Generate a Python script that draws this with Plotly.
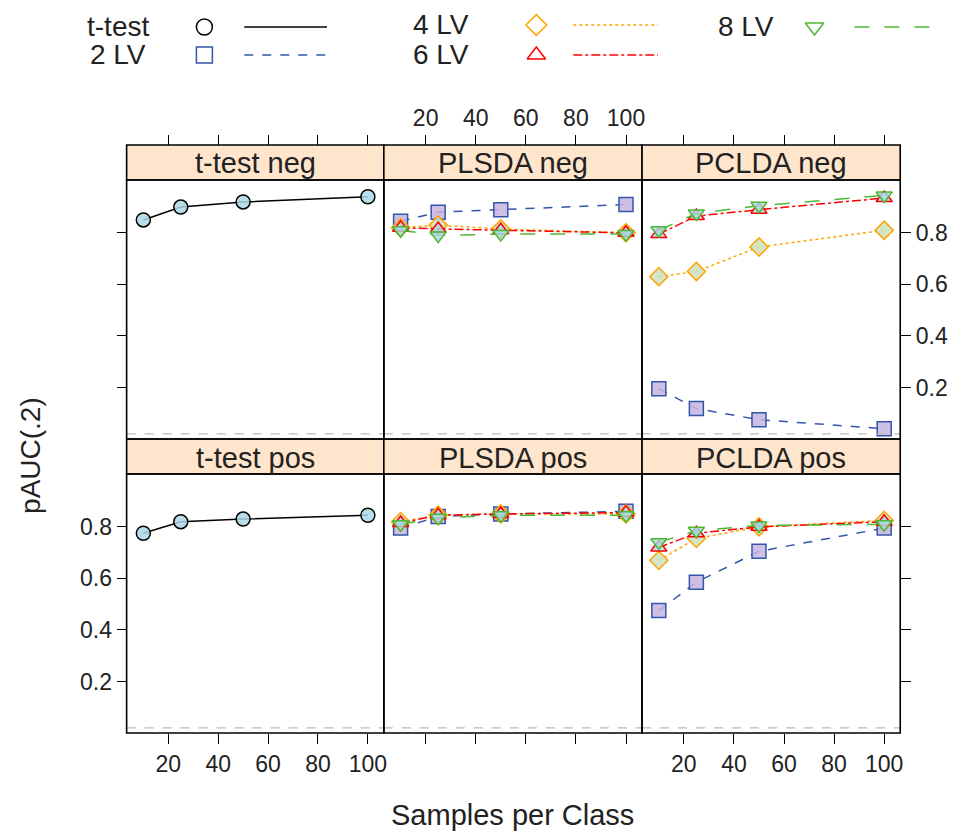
import plotly.graph_objects as go

W, H = 969, 834

samples = [10, 25, 50, 100]
methods = ["t-test", "PLSDA", "PCLDA"]
directions = ["neg", "pos"]
series_names = ["t-test", "2 LV", "4 LV", "6 LV", "8 LV"]

# pAUC(.2) values
ttest_neg = [0.85, 0.90, 0.92, 0.94]
ttest_pos = [0.775, 0.82, 0.83, 0.845]
plsda_neg = {
    "2 LV": [0.845, 0.88, 0.89, 0.91],
    "4 LV": [0.82, 0.83, 0.815, 0.80],
    "6 LV": [0.82, 0.815, 0.81, 0.80],
    "8 LV": [0.81, 0.79, 0.795, 0.795],
}
plsda_pos = {
    "2 LV": [0.795, 0.84, 0.85, 0.86],
    "4 LV": [0.82, 0.845, 0.85, 0.85],
    "6 LV": [0.815, 0.845, 0.85, 0.855],
    "8 LV": [0.81, 0.835, 0.845, 0.845],
}
pclda_neg = {
    "2 LV": [0.195, 0.118, 0.075, 0.04],
    "4 LV": [0.63, 0.65, 0.745, 0.81],
    "6 LV": [0.795, 0.865, 0.89, 0.935],
    "8 LV": [0.81, 0.875, 0.905, 0.945],
}
pclda_pos = {
    "2 LV": [0.475, 0.585, 0.705, 0.795],
    "4 LV": [0.67, 0.755, 0.80, 0.825],
    "6 LV": [0.72, 0.775, 0.80, 0.82],
    "8 LV": [0.74, 0.785, 0.805, 0.81],
}
random_pauc = 0.02

styles = {
    "t-test": dict(color="black", dash="solid", fill="rgba(173,216,230,0.85)", sym="circle"),
    "2 LV": dict(color="#3355AA", dash="dash", fill="rgba(200,180,225,0.85)", sym="square"),
    "4 LV": dict(color="#FFA500", dash="dot", fill="rgba(205,225,190,0.85)", sym="diamond"),
    "6 LV": dict(color="#FF0000", dash="dashdot", fill="rgba(173,216,230,0.8)", sym="triangle-up"),
    "8 LV": dict(color="#4DB833", dash="longdash", fill="rgba(173,216,230,0.8)", sym="triangle-down"),
}

OFF = 8  # page offset seen in the screenshot

def px(x):
    return (x - OFF) / W

def py(y):
    return 1 - (y - OFF) / H

col_px = [(127, 385), (385, 644), (644, 903)]
row_px = [(180, 439), (474, 733)]
strip_h = 35
FONT = "Liberation Sans, Arial, sans-serif"
TICKFONT = dict(size=23, family=FONT, color="#222")

panel_data = {
    ("t-test", "neg"): {"t-test": ttest_neg},
    ("t-test", "pos"): {"t-test": ttest_pos},
    ("PLSDA", "neg"): plsda_neg,
    ("PLSDA", "pos"): plsda_pos,
    ("PCLDA", "neg"): pclda_neg,
    ("PCLDA", "pos"): pclda_pos,
}

fig = go.Figure()
layout = {}
shapes = []
annotations = []
xr = [3.3, 106.4]
yr = [0.0, 1.005]

for r, d in enumerate(directions):
    for c, m in enumerate(methods):
        i = r * 3 + c + 1
        xa = "x" if i == 1 else f"x{i}"
        ya = "y" if i == 1 else f"y{i}"
        x0, x1 = col_px[c]
        y0, y1 = row_px[r]
        for name, vals in panel_data[(m, d)].items():
            s = styles[name]
            fig.add_trace(go.Scatter(
                x=samples, y=vals, xaxis=xa, yaxis=ya, mode="lines+markers",
                line=dict(color=s["color"], dash=s["dash"], width=1.5),
                marker=dict(symbol=s["sym"], size=14, color=s["fill"],
                            line=dict(color=s["color"], width=1.5)),
                showlegend=False, hoverinfo="skip"))
        fig.add_trace(go.Scatter(
            x=xr, y=[random_pauc, random_pauc], xaxis=xa, yaxis=ya, mode="lines",
            line=dict(color="#BBBBBB", dash="dash", width=1.2), showlegend=False, hoverinfo="skip"))

        xax = dict(domain=[px(x0), px(x1)], range=xr, showgrid=False, zeroline=False,
                   tickvals=[20, 40, 60, 80, 100], ticks="outside", ticklen=10, tickwidth=1.2,
                   tickcolor="black", tickfont=TICKFONT, showline=False, anchor="free")
        if r == 1:
            xax.update(side="bottom", position=py(y1), showticklabels=(c != 1))
        else:
            xax.update(side="top", position=py(y0 - strip_h), showticklabels=(c == 1))
        yax = dict(domain=[py(y1), py(y0)], range=yr, showgrid=False, zeroline=False,
                   tickvals=[0.2, 0.4, 0.6, 0.8], ticks="outside", ticklen=10, tickwidth=1.2,
                   tickcolor="black", tickfont=TICKFONT, showline=False, anchor="free")
        if c == 0:
            yax.update(side="left", position=px(x0), showticklabels=(r == 1))
        elif c == 2:
            yax.update(side="right", position=px(x1), showticklabels=(r == 0))
        else:
            yax.update(ticks="", showticklabels=False, position=px(x0))
        layout["xaxis" if i == 1 else f"xaxis{i}"] = xax
        layout["yaxis" if i == 1 else f"yaxis{i}"] = yax

        shapes.append(dict(type="rect", xref="paper", yref="paper", x0=px(x0), x1=px(x1),
                           y0=py(y0), y1=py(y0 - strip_h), fillcolor="#FFE5CC",
                           line=dict(color="black", width=1.6), layer="below"))
        shapes.append(dict(type="rect", xref="paper", yref="paper", x0=px(x0), x1=px(x1),
                           y0=py(y1), y1=py(y0), line=dict(color="black", width=1.6)))
        annotations.append(dict(text=f"{m} {d}", xref="paper", yref="paper",
                                x=px((x0 + x1) / 2), y=py(y0 - strip_h / 2 + 1), showarrow=False,
                                xanchor="center", yanchor="middle",
                                font=dict(size=29, family=FONT, color="#222")))

# legend drawn on an overlay axis in pixel units
leg_text_x = [85, 88, 412, 412, 718]
leg_y = [27, 55, 25, 55, 27]
leg_sym_x = [205, 205, 538, 538, 817]
leg_line_x = [(245, 328), (245, 328), (575, 660), (575, 660), (857, 940)]
layout["xaxis7"] = dict(domain=[0, 1], range=[OFF, W + OFF], visible=False, fixedrange=True, anchor="y7")
layout["yaxis7"] = dict(domain=[0, 1], range=[H + OFF, OFF], visible=False, fixedrange=True, anchor="x7")
for k, name in enumerate(series_names):
    s = styles[name]
    fig.add_trace(go.Scatter(x=[leg_sym_x[k]], y=[leg_y[k]], xaxis="x7", yaxis="y7", mode="markers",
                             marker=dict(symbol=s["sym"] + "-open", size=16, color=s["color"],
                                         line=dict(color=s["color"], width=1.5)),
                             showlegend=False, hoverinfo="skip"))
    fig.add_trace(go.Scatter(x=list(leg_line_x[k]), y=[leg_y[k], leg_y[k]], xaxis="x7", yaxis="y7", mode="lines",
                             line=dict(color=s["color"], dash=s["dash"], width=1.5),
                             showlegend=False, hoverinfo="skip"))
    annotations.append(dict(text=name, xref="paper", yref="paper", x=px(leg_text_x[k]), y=py(leg_y[k]),
                            xanchor="left", yanchor="middle", showarrow=False,
                            font=dict(size=28, family=FONT, color="#222")))

annotations.append(dict(text="Samples per Class", xref="paper", yref="paper", x=px(514), y=py(815),
                        xanchor="center", yanchor="middle",
                        showarrow=False, font=dict(size=29, family=FONT, color="#222")))
annotations.append(dict(text="pAUC(.2)", xref="paper", yref="paper", x=px(30), y=py(455), textangle=-90,
                        xanchor="center", yanchor="middle",
                        showarrow=False, font=dict(size=28, family=FONT, color="#222")))

fig.update_layout(width=W, height=H, margin=dict(l=0, r=0, t=0, b=0), paper_bgcolor="white",
                  plot_bgcolor="rgba(0,0,0,0)", shapes=shapes, annotations=annotations, **layout)
fig.write_html("out.html")
